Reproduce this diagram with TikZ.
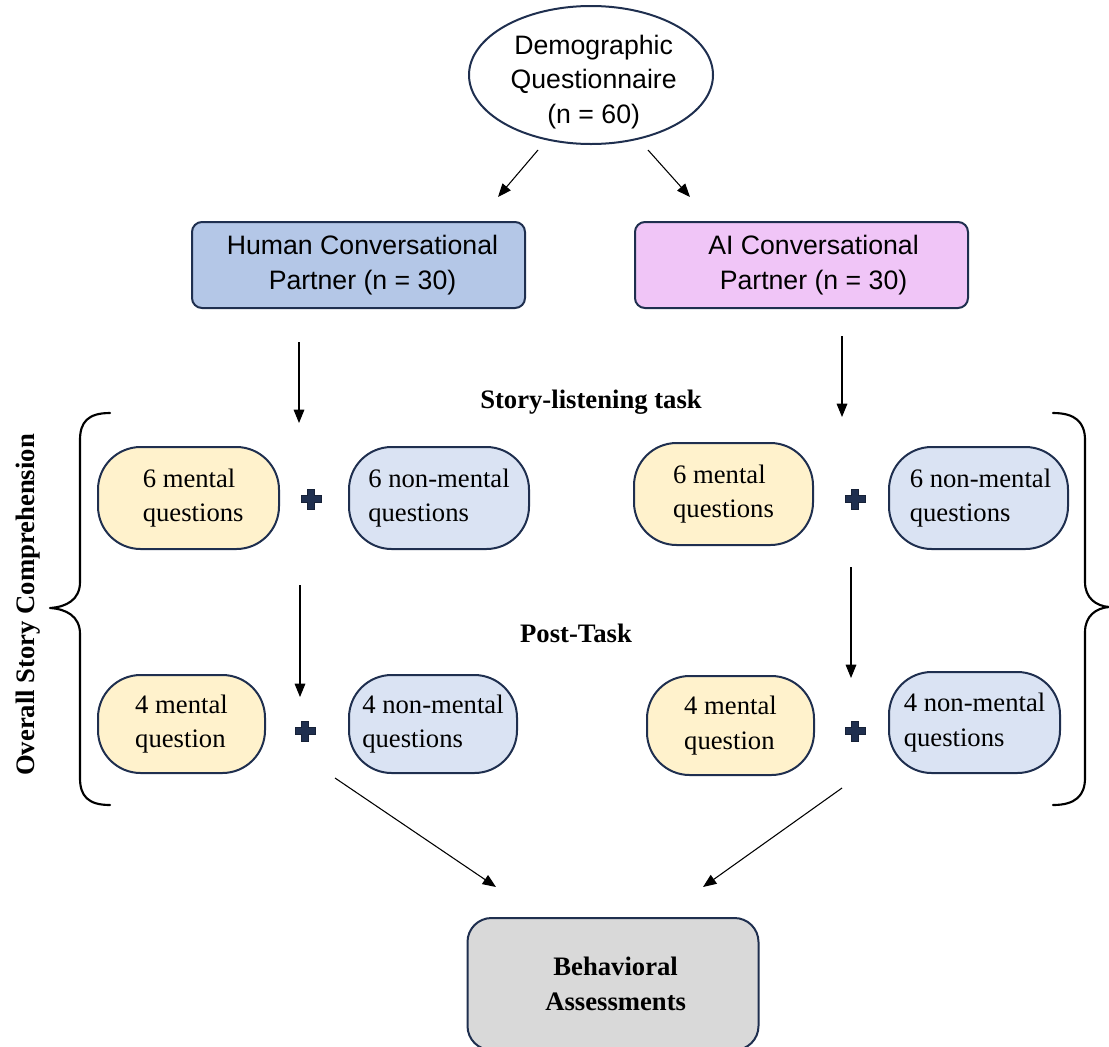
\documentclass[tikz,border=0pt]{standalone}
\usepackage{fontspec}
\setmainfont{Liberation Serif}
\newfontfamily\arialfont{Liberation Sans}
\usetikzlibrary{shapes.geometric,arrows.meta}
\definecolor{navy}{HTML}{1F2F4F}
\definecolor{humanblue}{HTML}{B4C7E7}
\definecolor{aipink}{HTML}{F0C5F7}
\definecolor{mentalyellow}{HTML}{FFF2CC}
\definecolor{nonmentalblue}{HTML}{DAE3F3}
\definecolor{assessgray}{HTML}{D9D9D9}
\begin{document}
\begin{tikzpicture}[x=0.75pt,y=-0.75pt,
  txt/.style={font=\fontsize{20}{26}\selectfont},
  sanstxt/.style={font=\arialfont\fontsize{20}{26}\selectfont},
  condbox/.style={draw=navy,line width=1.5pt,rounded corners=7.5pt,align=center,inner sep=0pt,sanstxt,minimum width=249.75pt,minimum height=64.5pt},
  pill/.style={draw=navy,line width=1.5pt,rounded corners=32pt,align=left,inner sep=0pt,txt},
  mentalbox/.style={pill,fill=mentalyellow},
  nonmentalbox/.style={pill,fill=nonmentalblue},
  heading/.style={font=\bfseries\fontsize{20}{26}\selectfont},
  arr/.style={-{Triangle[length=10pt,width=8pt]},line width=0.8pt},
  bracepath/.style={line width=1.6pt,line cap=round,line join=round},
  plussym/.pic={\filldraw[fill=navy,draw=navy!70!black,line width=0.6pt]
     (-10,-3.5)--(-3.5,-3.5)--(-3.5,-10)--(3.5,-10)--(3.5,-3.5)--(10,-3.5)--(10,3.5)--(3.5,3.5)--(3.5,10)--(-3.5,10)--(-3.5,3.5)--(-10,3.5)--cycle;}
]
\useasboundingbox (0,0) rectangle (1109,1046);

% top ellipse
\node[ellipse,draw=navy,line width=1.5pt,minimum width=183pt,minimum height=103.5pt,inner xsep=0pt,inner ysep=-8pt,align=center,sanstxt] (demo) at (591,75) {\rule{0pt}{25pt}\hspace*{4pt}Demographic\\\hspace*{4pt}Questionnaire\\\hspace*{4pt}(n = 60)};

% condition boxes
\node[condbox,fill=humanblue] (human) at (358.5,265) {\hspace*{6pt}Human Conversational\\\hspace*{6pt}Partner (n = 30)};
\node[condbox,fill=aipink] (ai) at (801.5,265) {\hspace*{18pt}AI Conversational\\\hspace*{18pt}Partner (n = 30)};

% headings
\node[heading] (story) at (591,402) {Story-listening task};
\node[heading] (post) at (576,633) {Post-Task};

% row 1
\node[mentalbox,minimum width=135.75pt,minimum height=76.5pt] (hm6) at (188.5,498) {\hspace*{7pt}6 mental\\\hspace*{7pt}questions};
\node[nonmentalbox,minimum width=135pt,minimum height=76.5pt] (hn6) at (439,498) {6 non-mental\\questions};
\node[mentalbox,minimum width=134.25pt,minimum height=76.5pt] (am6) at (723.5,494) {6 mental\\questions};
\node[nonmentalbox,minimum width=134.25pt,minimum height=76.5pt] (an6) at (978.5,498) {\hspace*{3pt}6 non-mental\\\hspace*{3pt}questions};

% row 2
\node[mentalbox,minimum width=125.25pt,minimum height=73.5pt] (hm4) at (181.5,724) {4 mental\\question};
\node[nonmentalbox,minimum width=126pt,minimum height=73.5pt] (hn4) at (433,724) {4 non-mental\\questions};
\node[mentalbox,minimum width=125.25pt,minimum height=74.25pt] (am4) at (730.5,725.5) {4 mental\\question};
\node[nonmentalbox,minimum width=128.25pt,minimum height=75.75pt] (an4) at (974.5,722.5) {4 non-mental\\questions};

% plus signs
\pic at (311,499) {plussym};
\pic at (855,499) {plussym};
\pic at (305,731) {plussym};
\pic at (855,731) {plussym};

% bottom box
\node[draw=navy,line width=1.5pt,fill=assessgray,rounded corners=18pt,minimum width=218.25pt,minimum height=99pt,inner sep=0pt,align=center,heading] (assess) at (613,984) {\hspace*{4pt}Behavioral\\\hspace*{4pt}Assessments};

% arrow end coordinates
\coordinate (d1) at (538,150); \coordinate (d1e) at (498,197);
\coordinate (d2) at (648,150); \coordinate (d2e) at (690,197);
\coordinate (h1) at (299,342); \coordinate (h1e) at (299,423);
\coordinate (a1) at (842,336); \coordinate (a1e) at (842,417);
\coordinate (h2) at (300,585); \coordinate (h2e) at (300,697);
\coordinate (a2) at (851,567); \coordinate (a2e) at (851,678);
\coordinate (h3) at (335,778); \coordinate (h3e) at (496,887);
\coordinate (a3) at (842,788); \coordinate (a3e) at (703,887);

\draw[arr] (d1) -- (d1e);
\draw[arr] (d2) -- (d2e);
\draw[arr] (h1) -- (h1e);
\draw[arr] (a1) -- (a1e);
\draw[arr] (h2) -- (h2e);
\draw[arr] (a2) -- (a2e);
\draw[arr] (h3) -- (h3e);
\draw[arr] (a3) -- (a3e);

% left brace
\draw[bracepath] (110,413) .. controls (88,413) and (80,422) .. (80,440)
  -- (80,582) .. controls (80,600) and (66,607) .. (50,608)
  .. controls (66,609) and (80,616) .. (80,634)
  -- (80,778) .. controls (80,796) and (88,805) .. (110,805);
% right brace
\draw[bracepath] (1053,413) .. controls (1075,413) and (1085,422) .. (1085,440)
  -- (1085,582) .. controls (1085,598) and (1096,606) .. (1109,607)
  .. controls (1096,608) and (1085,616) .. (1085,632)
  -- (1085,778) .. controls (1085,796) and (1075,805) .. (1053,805);

% vertical label
\node[heading,rotate=90] (overall) at (28,605) {Overall Story Comprehension};
\end{tikzpicture}
\end{document}
